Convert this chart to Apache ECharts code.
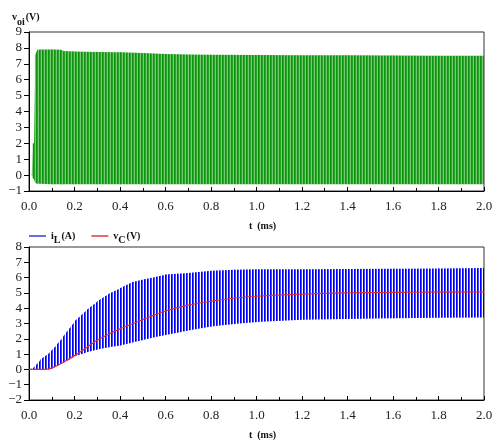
<!DOCTYPE html>
<html>
<head>
<meta charset="utf-8">
<script src="https://cdn.jsdelivr.net/npm/echarts@6/dist/echarts.min.js"></script>
<style>
  html, body { margin: 0; padding: 0; background: #fff; }
  #chart { width: 497px; height: 441px; }
</style>
</head>
<body>
<div id="chart"></div>
<script>
// top panel: envelope of the switching voltage v_oi (V)
const tTop = [0, 0.012, 0.016, 0.022, 0.026, 0.035, 0.05, 0.1, 0.14, 0.15, 0.2, 0.3, 0.4, 0.5, 0.6, 0.7, 0.8, 1.0, 1.2, 1.4, 1.6, 1.8, 2.0];
const voiUpper = [0, 0, 2.0, 2.0, 7.55, 7.88, 7.9, 7.9, 7.88, 7.8, 7.78, 7.75, 7.72, 7.68, 7.62, 7.59, 7.57, 7.55, 7.54, 7.53, 7.52, 7.51, 7.5];
const voiLower = [0, 0, -0.2, -0.3, -0.5, -0.55, -0.55, -0.57, -0.58, -0.58, -0.58, -0.58, -0.58, -0.58, -0.58, -0.58, -0.58, -0.58, -0.58, -0.58, -0.58, -0.58, -0.58];

// bottom panel: envelope of inductor current i_L (A) and capacitor voltage v_C (V)
const tBot = [0, 0.02, 0.05, 0.09, 0.1, 0.12, 0.15, 0.2, 0.25, 0.3, 0.35, 0.4, 0.45, 0.5, 0.55, 0.6, 0.65, 0.7, 0.8, 0.9, 1.0, 1.2, 1.4, 1.6, 1.8, 2.0];
const iLUpper = [0, 0.1, 0.65, 1.1, 1.25, 1.6, 2.15, 3.15, 3.85, 4.45, 4.95, 5.3, 5.7, 5.88, 6.02, 6.2, 6.25, 6.3, 6.45, 6.52, 6.55, 6.55, 6.56, 6.58, 6.6, 6.62];
const iLLower = [0, 0, 0, 0, 0.05, 0.2, 0.45, 0.85, 1.1, 1.3, 1.45, 1.56, 1.75, 1.92, 2.1, 2.25, 2.4, 2.55, 2.8, 2.97, 3.1, 3.25, 3.3, 3.35, 3.38, 3.4];

const tVc = [0, 0.05, 0.08, 0.1, 0.15, 0.2, 0.25, 0.3, 0.35, 0.4, 0.45, 0.5, 0.55, 0.6, 0.7, 0.8, 0.9, 1.0, 1.2, 1.4, 1.6, 1.8, 2.0];
const vC = [0, 0, 0.02, 0.08, 0.45, 0.9, 1.4, 1.9, 2.3, 2.65, 2.95, 3.25, 3.55, 3.82, 4.2, 4.45, 4.65, 4.78, 4.92, 5.0, 5.03, 5.05, 5.06];

const serif = 'Liberation Serif';

function pairs(xs, ys) {
  return xs.map((x, i) => [x, ys[i]]);
}

// one row per envelope segment: [t0, lo0, hi0, t1, lo1, hi1]
function segments(ts, lo, hi) {
  return ts.slice(0, -1).map((t, i) => [t, lo[i], hi[i], ts[i + 1], lo[i + 1], hi[i + 1]]);
}

// vertical stripe pattern for the fast switching band
function stripes(colors) {
  const c = document.createElement('canvas');
  c.width = colors.length;
  c.height = 4;
  const ctx = c.getContext('2d');
  colors.forEach((col, i) => {
    ctx.fillStyle = col;
    ctx.fillRect(i, 0, 1, 4);
  });
  return { image: c, repeat: 'repeat' };
}

const greenFill = stripes(['#0c960c', '#2aa52a', '#78c878']);
const blueFill = stripes(['#0000f0', '#4646ff', '#ffffff']);

function bandRenderer(fill) {
  return (params, api) => {
    const a = api.coord([api.value(0), api.value(1)]);
    const b = api.coord([api.value(0), api.value(2)]);
    const c = api.coord([api.value(3), api.value(5)]);
    const d = api.coord([api.value(3), api.value(4)]);
    // small overlap hides the seam between neighbouring segments
    const pad = api.value(3) < 2 ? 0.6 : 0;
    return {
      type: 'polygon',
      shape: { points: [a, b, [c[0] + pad, c[1]], [d[0] + pad, d[1]]] },
      style: { fill },
    };
  };
}

const labelFmt = (v) => String(v).replace('-', '\u2212');

function xAxis(gridIndex) {
  return {
    type: 'value',
    gridIndex,
    min: 0,
    max: 2,
    interval: 0.2,
    name: 't  (ms)',
    nameLocation: 'middle',
    nameGap: 30,
    nameTextStyle: { fontFamily: serif, fontWeight: 'bold', fontSize: 10, color: '#111', padding: [0, 0, 0, 12] },
    axisLine: { onZero: false, lineStyle: { color: '#000', width: 1 } },
    axisTick: { inside: true, length: 4, lineStyle: { color: '#000' } },
    minorTick: { show: true, splitNumber: 2, length: 3, lineStyle: { color: '#000' } },
    splitLine: { show: false },
    axisLabel: { fontFamily: serif, fontSize: 13, color: '#222', margin: 9, formatter: (v) => v.toFixed(1) },
  };
}

function yAxis(gridIndex, min, max) {
  return {
    type: 'value',
    gridIndex,
    min,
    max,
    interval: 1,
    axisLine: { show: true, onZero: false, lineStyle: { color: '#000', width: 1 } },
    axisTick: { show: true, length: 5, lineStyle: { color: '#000' } },
    splitLine: { show: false },
    axisLabel: { fontFamily: serif, fontSize: 13, color: '#222', margin: 7, formatter: labelFmt },
  };
}

const richBase = { fontFamily: serif, fontWeight: 'bold', color: '#111' };
const rich = {
  m: Object.assign({ fontSize: 10 }, richBase),
  s: Object.assign({ fontSize: 10, padding: [9, 0, 0, 0] }, richBase),
  p: Object.assign({ fontSize: 10, padding: [0, 0, 0, 1] }, richBase),
};

const chart = echarts.init(document.getElementById('chart'), null, { renderer: 'canvas' });

chart.setOption({
  backgroundColor: '#fff',
  animation: false,
  title: {
    text: '{m|v}{s|oi}{p|(V)}',
    left: 7,
    top: 3,
    textStyle: { rich },
  },
  legend: {
    left: 24,
    top: 226,
    itemWidth: 17,
    itemHeight: 1.5,
    itemGap: 16,
    data: [
      { name: 'iL', icon: 'rect', itemStyle: { color: '#3a3acc' } },
      { name: 'vC', icon: 'rect', itemStyle: { color: '#e03a3a' } },
    ],
    formatter: (name) => (name === 'iL' ? '{m|i}{s|L}{p|(A)}' : '{m|v}{s|C}{p|(V)}'),
    textStyle: { rich },
  },
  grid: [
    { left: 29, width: 455, top: 32, height: 159, show: true, borderColor: '#333', borderWidth: 1, backgroundColor: 'transparent' },
    { left: 29, width: 455, top: 247, height: 160, show: true, borderColor: '#333', borderWidth: 1, backgroundColor: 'transparent' },
  ],
  xAxis: [xAxis(0), xAxis(1)],
  yAxis: [yAxis(0, -1, 9), yAxis(1, -2, 8)],
  series: [
    {
      name: 'voi',
      type: 'custom',
      xAxisIndex: 0,
      yAxisIndex: 0,
      color: '#169a16',
      encode: { x: [0, 3], y: [1, 2, 4, 5] },
      renderItem: bandRenderer(greenFill),
      data: segments(tTop, voiLower, voiUpper),
    },
    {
      name: 'iL',
      type: 'custom',
      xAxisIndex: 1,
      yAxisIndex: 1,
      color: '#3a3acc',
      encode: { x: [0, 3], y: [1, 2, 4, 5] },
      renderItem: bandRenderer(blueFill),
      data: segments(tBot, iLLower, iLUpper),
    },
    {
      name: 'vC',
      type: 'line',
      xAxisIndex: 1,
      yAxisIndex: 1,
      symbol: 'none',
      smooth: 0.3,
      color: '#e03a3a',
      lineStyle: { width: 1.2, color: '#d8303a' },
      z: 5,
      data: pairs(tVc, vC),
    },
  ],
});
</script>
</body>
</html>
